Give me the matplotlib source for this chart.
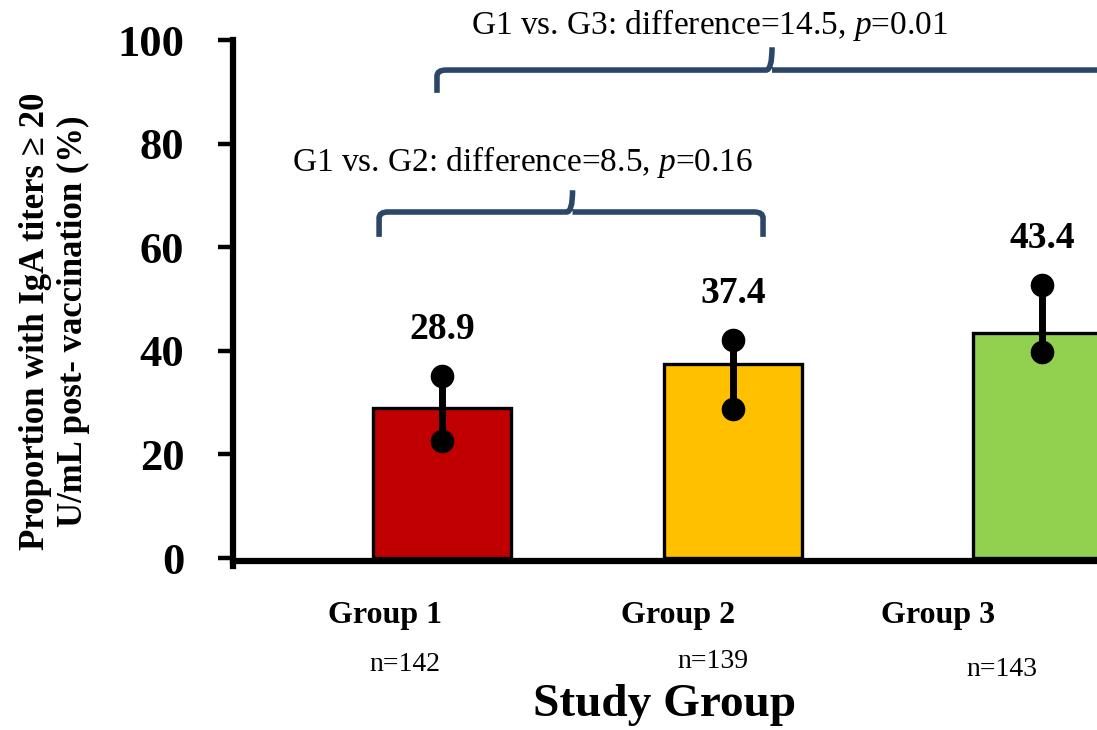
import matplotlib.pyplot as plt
from matplotlib.path import Path
from matplotlib.patches import PathPatch

plt.rcParams['font.family'] = ['Liberation Serif', 'DejaVu Serif']
plt.rcParams['mathtext.fontset'] = 'custom'
plt.rcParams['mathtext.rm'] = 'Liberation Serif'
plt.rcParams['mathtext.it'] = 'Liberation Serif:italic'

groups = ['Group 1', 'Group 2', 'Group 3']
sizes = ['n=142', 'n=139', 'n=143']
percent = [28.9, 37.4, 43.4]
ci_low = [22.6, 28.8, 39.8]
ci_high = [35.1, 42.1, 52.7]
colors = ['#C00000', '#FFC000', '#92D050']
comparisons = ['G1 vs. G2: difference=8.5, $\\mathit{p}$=0.16',
               'G1 vs. G3: difference=14.5, $\\mathit{p}$=0.01']

xpos = [0, 0.97, 2.0]
brace_col = '#2B4667'

fig = plt.figure(figsize=(10.97, 7.30), dpi=100)
ax = fig.add_axes([0.2124, 0.2249, 0.8195, 0.7203])

ax.bar(xpos, percent, width=0.46, color=colors, edgecolor='black',
       linewidth=2.4, zorder=2)

# confidence interval: stick with a dot at each end
for x, lo, hi in zip(xpos, ci_low, ci_high):
    ax.plot([x, x], [lo, hi], color='black', lw=5, marker='o', ms=16,
            zorder=3, solid_capstyle='butt')

for x, hi, v in zip(xpos, ci_high, percent):
    ax.text(x, hi + 9, '{:.1f}'.format(v), ha='center', va='center',
            fontsize=27, fontweight='bold', clip_on=False)

def brace(x0, x1, xm, y, drop, rise):
    r = 0.03
    verts = [(x0, y - drop), (x0, y - 1.2), (x0, y), (x0 + r, y),
             (xm - 0.02, y), (xm, y), (xm, y + rise),
             (xm, y), (xm + 0.02, y),
             (x1 - r, y), (x1, y), (x1, y - 1.2), (x1, y - drop)]
    codes = [Path.MOVETO, Path.LINETO, Path.CURVE3, Path.CURVE3,
             Path.LINETO, Path.CURVE3, Path.CURVE3,
             Path.MOVETO, Path.LINETO,
             Path.LINETO, Path.CURVE3, Path.CURVE3, Path.LINETO]
    ax.add_patch(PathPatch(Path(verts, codes), fill=False, ec=brace_col,
                           lw=4, clip_on=False, capstyle='butt'))

brace(-0.21, 1.07, 0.435, 66.8, 4.8, 4.2)
brace(-0.017, 2.6, 1.10, 94.2, 4.4, 4.4)

ax.text(0.267, 76.4, comparisons[0], ha='center', va='center',
        fontsize=24, clip_on=False)
ax.text(0.89, 102.9, comparisons[1], ha='center', va='center',
        fontsize=24, clip_on=False)

# category and sample size labels below the axis
gx = [-0.19, 0.787, 1.653]
nx = [-0.123, 0.903, 1.867]
ny = [-20.5, -20.0, -21.5]
for g, x in zip(groups, gx):
    ax.text(x, -11, g, ha='center', va='center', fontsize=23,
            fontweight='bold', clip_on=False)
for n, x, y in zip(sizes, nx, ny):
    ax.text(x, y, n, ha='center', va='center', fontsize=20, clip_on=False)
ax.text(0.743, -28.3, 'Study Group', ha='center', va='center',
        fontsize=34, fontweight='bold', clip_on=False)

fig.text(0.05, 0.56,
         'Proportion with IgA titers \u2265 20\nU/mL post- vaccination (%)',
         rotation=90, ha='center', va='center', ma='center',
         fontsize=25, fontweight='bold', linespacing=1.2)

ax.set_xlim(-0.697, 2.3)
ax.set_ylim(-1.5, 100)
ax.set_yticks([0, 20, 40, 60, 80, 100])
ax.set_xticks([])
for lab in ax.get_yticklabels():
    lab.set_fontweight('bold')
ax.tick_params(axis='y', direction='out', length=11, width=3.2,
               labelsize=32, pad=24)
for s in ['top', 'right']:
    ax.spines[s].set_visible(False)
ax.spines['left'].set_linewidth(4.5)
ax.spines['bottom'].set_linewidth(4.5)
ax.spines['bottom'].set_position(('data', -0.6))

fig.savefig('out.png', dpi=100)
